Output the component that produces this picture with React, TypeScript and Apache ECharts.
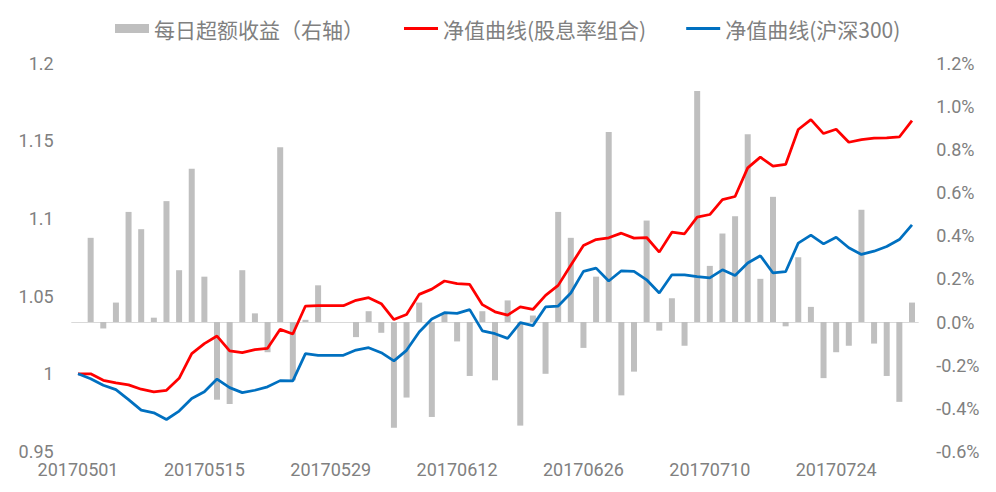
import React, { useEffect, useRef } from "react";
import * as echarts from "echarts";

const dates = [
  "20170501", "20170502", "20170503", "20170504", "20170505", "20170508", "20170509", "20170510", "20170511", "20170512",
  "20170515", "20170516", "20170517", "20170518", "20170519", "20170522", "20170523", "20170524", "20170525", "20170526",
  "20170529", "20170530", "20170531", "20170601", "20170602", "20170605", "20170606", "20170607", "20170608", "20170609",
  "20170612", "20170613", "20170614", "20170615", "20170616", "20170619", "20170620", "20170621", "20170622", "20170623",
  "20170626", "20170627", "20170628", "20170629", "20170630", "20170703", "20170704", "20170705", "20170706", "20170707",
  "20170710", "20170711", "20170712", "20170713", "20170714", "20170717", "20170718", "20170719", "20170720", "20170721",
  "20170724", "20170725", "20170726", "20170727", "20170728", "20170731", "20170801",
];

// 每日超额收益（%）
const excessReturn = [
  0, 0.39, -0.03, 0.09, 0.51, 0.43, 0.02, 0.56, 0.24, 0.71,
  0.21, -0.36, -0.38, 0.24, 0.04, -0.14, 0.81, -0.27, 0.01, 0.17,
  0, 0, -0.07, 0.05, -0.05, -0.49, -0.35, 0.09, -0.44, 0.04,
  -0.09, -0.25, 0.05, -0.27, 0.10, -0.48, 0.03, -0.24, 0.51, 0.39,
  -0.12, 0.21, 0.88, -0.34, -0.23, 0.47, -0.04, 0.11, -0.11, 1.07,
  0.26, 0.41, 0.49, 0.87, 0.20, 0.58, -0.02, 0.30, 0.07, -0.26,
  -0.14, -0.11, 0.52, -0.10, -0.25, -0.37, 0.09,
];

// 净值曲线(股息率组合)
const navDividend = [
  1.0, 1.0, 0.9958, 0.9941, 0.9929, 0.9901, 0.9884, 0.9894, 0.9971, 1.013,
  1.0194, 1.0243, 1.0147, 1.0136, 1.0155, 1.0164, 1.0286, 1.0256, 1.0436, 1.0438,
  1.0438, 1.0438, 1.0473, 1.049, 1.0451, 1.0349, 1.0381, 1.0511, 1.0545, 1.0597,
  1.058, 1.0575, 1.0445, 1.0399, 1.0378, 1.0431, 1.0414, 1.0505, 1.0569, 1.0698,
  1.0826, 1.0864, 1.0875, 1.0905, 1.0873, 1.0877, 1.0783, 1.0911, 1.0901, 1.1008,
  1.1025, 1.1121, 1.1141, 1.1325, 1.1394, 1.1336, 1.1347, 1.1572, 1.1636, 1.1546,
  1.1574, 1.149, 1.1507, 1.1516, 1.1518, 1.1524, 1.1629,
];

// 净值曲线(沪深300)
const navHS300 = [
  1.0, 0.9968, 0.9926, 0.9898, 0.9834, 0.9766, 0.9749, 0.9706, 0.976, 0.9841,
  0.9884, 0.9966, 0.9911, 0.9879, 0.9894, 0.9916, 0.9956, 0.9954, 1.013, 1.0119,
  1.0119, 1.0119, 1.0153, 1.0168, 1.0136, 1.0083, 1.0151, 1.0269, 1.0353, 1.0393,
  1.0389, 1.0413, 1.0276, 1.0258, 1.0228, 1.0329, 1.031, 1.043, 1.0436, 1.052,
  1.0659, 1.068, 1.0597, 1.0663, 1.0659, 1.0605, 1.052, 1.0637, 1.0637, 1.0626,
  1.0617, 1.0669, 1.0632, 1.0713, 1.076, 1.0649, 1.0657, 1.0841, 1.0892, 1.0836,
  1.0879, 1.0811, 1.0768, 1.0789, 1.0819, 1.0864, 1.0959,
];

const seriesNames = ["每日超额收益（右轴）", "净值曲线(股息率组合)", "净值曲线(沪深300)"];

const labelColor = "#808080";
const numFont = "Roboto, 'Liberation Sans', sans-serif";
const cjkFont = "'Noto Sans CJK SC', 'Noto Sans', sans-serif";
const lineIcon = "path://M0,0L34,0L34,3L0,3Z";

export default function App() {
  const ref = useRef<HTMLDivElement>(null);

  useEffect(() => {
    document.body.style.margin = "0";
    if (!ref.current) return;
    const chart = echarts.init(ref.current, undefined, { renderer: "svg" });
    chart.setOption({
      animation: false,
      backgroundColor: "#ffffff",
      legend: {
        top: 13,
        left: 110,
        itemWidth: 34,
        itemHeight: 9,
        itemGap: 40,
        symbolKeepAspect: true,
        textStyle: { color: labelColor, fontSize: 21, fontFamily: cjkFont },
        data: [
          { name: seriesNames[0], icon: "rect" },
          { name: seriesNames[1], icon: lineIcon },
          { name: seriesNames[2], icon: lineIcon },
        ],
      },
      grid: { left: 71.7, right: 77.7, top: 63, bottom: 40.5, containLabel: false },
      xAxis: {
        type: "category",
        data: dates,
        boundaryGap: true,
        axisLine: { show: true, lineStyle: { color: "#d9d9d9", width: 1 } },
        axisTick: { show: false },
        axisLabel: {
          interval: 9,
          color: labelColor,
          fontSize: 18,
          fontFamily: numFont,
          margin: 9,
        },
        splitLine: { show: false },
      },
      yAxis: [
        {
          type: "value",
          min: 0.95,
          max: 1.2,
          interval: 0.05,
          axisLine: { show: false },
          axisTick: { show: false },
          splitLine: { show: false },
          axisLabel: {
            color: labelColor,
            fontSize: 18,
            fontFamily: numFont,
            margin: 18,
            formatter: (v: number) => String(parseFloat(v.toFixed(2))),
          },
        },
        {
          type: "value",
          min: -0.6,
          max: 1.2,
          interval: 0.2,
          axisLine: { show: false },
          axisTick: { show: false },
          splitLine: { show: false },
          axisLabel: {
            color: labelColor,
            fontSize: 18,
            fontFamily: numFont,
            margin: 18,
            align: "left",
            formatter: (v: number) => v.toFixed(1) + "%",
          },
        },
      ],
      series: [
        {
          name: seriesNames[0],
          type: "bar",
          yAxisIndex: 1,
          data: excessReturn,
          barWidth: 6,
          itemStyle: { color: "#bfbfbf" },
        },
        {
          name: seriesNames[1],
          type: "line",
          yAxisIndex: 0,
          data: navDividend,
          symbol: "none",
          showSymbol: false,
          lineStyle: { color: "#ff0000", width: 2.75 },
          itemStyle: { color: "#ff0000" },
        },
        {
          name: seriesNames[2],
          type: "line",
          yAxisIndex: 0,
          data: navHS300,
          symbol: "none",
          showSymbol: false,
          lineStyle: { color: "#0070c0", width: 2.75 },
          itemStyle: { color: "#0070c0" },
        },
      ],
    });
    return () => chart.dispose();
  }, []);

  return <div ref={ref} style={{ width: 996, height: 492 }} />;
}
